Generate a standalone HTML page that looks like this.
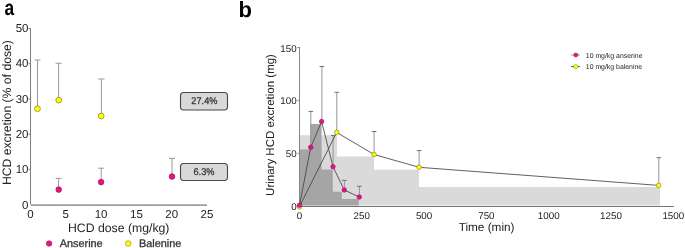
<!DOCTYPE html>
<html><head><meta charset="utf-8">
<style>
html,body{margin:0;padding:0;background:#fff;width:685px;height:248px;overflow:hidden}
svg{display:block;will-change:transform}
text{font-family:"Liberation Sans",sans-serif;text-rendering:geometricPrecision}
</style></head>
<body>
<svg width="685" height="248" viewBox="0 0 685 248">
<!-- ===== Panel a ===== -->
<text transform="translate(4.4,15.1) scale(0.82,1)" font-size="21.2" font-weight="bold" fill="#000">a</text>

<!-- y axis -->
<line x1="30.5" y1="28" x2="30.5" y2="205" stroke="#808080" stroke-width="1"/>
<g stroke="#808080" stroke-width="1">
<line x1="28.5" y1="28.5" x2="30.5" y2="28.5"/>
<line x1="28.5" y1="63.7" x2="30.5" y2="63.7"/>
<line x1="28.5" y1="99" x2="30.5" y2="99"/>
<line x1="28.5" y1="134.2" x2="30.5" y2="134.2"/>
<line x1="28.5" y1="169.3" x2="30.5" y2="169.3"/>
</g>
<g font-size="11.5" fill="#222" text-anchor="end">
<text x="28.5" y="32.2">50</text>
<text x="28.5" y="67.2">40</text>
<text x="28.5" y="102.5">30</text>
<text x="28.5" y="137.8">20</text>
<text x="28.5" y="173.1">10</text>
<text x="28.5" y="208.5">0</text>
</g>
<!-- x axis dotted -->
<line x1="30" y1="204.5" x2="207" y2="204.5" stroke="#b8b8b8" stroke-width="1"/>
<line x1="31" y1="205.5" x2="207" y2="205.5" stroke="#b0b0b0" stroke-width="1"/>
<line x1="31" y1="205.5" x2="207" y2="205.5" stroke="#8a8a8a" stroke-width="1" stroke-dasharray="1.2 1.2"/>
<g font-size="11.5" fill="#222" text-anchor="middle">
<text x="30.5" y="217.5">0</text>
<text x="65.8" y="217.5">5</text>
<text x="101.1" y="217.5">10</text>
<text x="136.4" y="217.5">15</text>
<text x="171.7" y="217.5">20</text>
<text x="207" y="217.5">25</text>
</g>
<text x="118.7" y="232" font-size="12.25" fill="#222" text-anchor="middle">HCD dose (mg/kg)</text>
<text transform="translate(10.5,112.6) rotate(-90)" font-size="12.2" fill="#222" text-anchor="middle">HCD excretion (% of dose)</text>

<!-- error bars panel a -->
<g stroke="#9a9a9a" stroke-width="1">
<line x1="37.5" y1="60" x2="37.5" y2="108.7"/><line x1="34.5" y1="60" x2="40.5" y2="60"/>
<line x1="58.6" y1="63.3" x2="58.6" y2="100.2"/><line x1="55.6" y1="63.3" x2="61.6" y2="63.3"/>
<line x1="101.4" y1="79" x2="101.4" y2="115.9"/><line x1="98.1" y1="79" x2="104.5" y2="79"/>
<line x1="58.6" y1="178.4" x2="58.6" y2="189.6"/><line x1="55.6" y1="178.4" x2="61.6" y2="178.4"/>
<line x1="101.2" y1="168.2" x2="101.2" y2="182.1"/><line x1="98.2" y1="168.2" x2="104.2" y2="168.2"/>
<line x1="172" y1="158.4" x2="172" y2="176.5"/><line x1="169" y1="158.4" x2="175" y2="158.4"/>
</g>
<g fill="#ffff00" stroke="#6b6b10" stroke-width="0.6">
<circle cx="37.5" cy="108.7" r="2.9"/>
<circle cx="58.7" cy="100.2" r="2.9"/>
<circle cx="101.2" cy="116" r="2.9"/>
</g>
<g fill="#ea1282" stroke="#8b1050" stroke-width="0.6">
<circle cx="58.7" cy="189.6" r="2.85"/>
<circle cx="101.1" cy="182.1" r="2.85"/>
<circle cx="172" cy="176.5" r="2.85"/>
</g>
<!-- value boxes -->
<rect x="180.5" y="92.5" width="47" height="17.5" rx="3.2" fill="#d9d9d9" stroke="#4a4a4a" stroke-width="1.15"/>
<text transform="translate(204.4,104.2) scale(0.95,1)" font-size="9.7" fill="#333" stroke="#333" stroke-width="0.25" text-anchor="middle">27.4%</text>
<rect x="180.5" y="163.5" width="47" height="17" rx="3.2" fill="#d9d9d9" stroke="#4a4a4a" stroke-width="1.15"/>
<text transform="translate(204,174.6) scale(0.95,1)" font-size="9.7" fill="#333" stroke="#333" stroke-width="0.25" text-anchor="middle">6.3%</text>

<!-- legend a -->
<circle cx="49.1" cy="243.5" r="2.8" fill="#ea1282" stroke="#8b1050" stroke-width="0.5"/>
<text x="59.7" y="246.8" font-size="10.9" fill="#333" stroke="#333" stroke-width="0.3">Anserine</text>
<circle cx="128.2" cy="243.5" r="2.8" fill="#ffff00" stroke="#6b6b10" stroke-width="0.5"/>
<text x="138.9" y="246.8" font-size="10.9" fill="#333" stroke="#333" stroke-width="0.3">Balenine</text>

<!-- ===== Panel b ===== -->
<text x="238.4" y="17" font-size="22" font-weight="bold" fill="#000">b</text>

<!-- light bars (balenine) -->
<path fill="#dadada" d="M299.5,205.6 V135.3 H337 V156.6 H374 V169.8 H419 V187 H660 V205.6 Z"/>
<!-- dark bars (anserine) -->
<path fill="#a5a5a5" d="M299.5,205.6 V149.4 H310.5 V124 H321.6 V169.5 H332.8 V191.8 H341.8 V199 H358.8 V205.6 Z"/>

<!-- axes b -->
<line x1="299.5" y1="47" x2="299.5" y2="206.5" stroke="#858585" stroke-width="1"/>
<line x1="299" y1="206.5" x2="674" y2="206.5" stroke="#747474" stroke-width="1"/>
<g stroke="#858585" stroke-width="1">
<line x1="297.5" y1="47.5" x2="299.5" y2="47.5"/>
<line x1="297.5" y1="100.5" x2="299.5" y2="100.5"/>
<line x1="297.5" y1="153.3" x2="299.5" y2="153.3"/>
</g>
<g font-size="9.8" fill="#222" text-anchor="end">
<text x="296.6" y="51.5">150</text>
<text x="296.6" y="104.4">100</text>
<text x="296.6" y="157.1">50</text>
<text x="296.6" y="209.9">0</text>
</g>
<g font-size="9.8" fill="#222" text-anchor="middle">
<text x="299.5" y="219">0</text>
<text x="361.8" y="219">250</text>
<text x="424.1" y="219">500</text>
<text x="486.4" y="219">750</text>
<text x="548.7" y="219">1000</text>
<text x="611" y="219">1250</text>
<text x="673.3" y="219">1500</text>
</g>
<text x="486.6" y="231.3" font-size="11.8" fill="#222" text-anchor="middle">Time (min)</text>
<text transform="translate(274.4,125) rotate(-90)" font-size="11.5" fill="#222" text-anchor="middle">Urinary HCD excretion (mg)</text>

<!-- error bars b -->
<g stroke="#959595" stroke-width="1">
<line x1="310.8" y1="111.4" x2="310.8" y2="147.3"/>
<line x1="321.9" y1="66.5" x2="321.9" y2="121.5"/>
<line x1="333.1" y1="135.4" x2="333.1" y2="166.7"/>
<line x1="344.4" y1="180.4" x2="344.4" y2="190"/>
<line x1="359.4" y1="186.3" x2="359.4" y2="197"/>
<line x1="336.8" y1="92.3" x2="336.8" y2="132.4"/>
<line x1="374.1" y1="131.5" x2="374.1" y2="154.5"/>
<line x1="419.1" y1="150.6" x2="419.1" y2="167.1"/>
<line x1="658.8" y1="157.7" x2="658.8" y2="185.4"/>
</g>
<g stroke="#6e6e6e" stroke-width="1">
<line x1="308.5" y1="111.4" x2="313.1" y2="111.4"/>
<line x1="319.6" y1="66.5" x2="324.2" y2="66.5"/>
<line x1="330.8" y1="135.4" x2="335.4" y2="135.4"/>
<line x1="342.1" y1="180.4" x2="346.7" y2="180.4"/>
<line x1="357.1" y1="186.3" x2="361.7" y2="186.3"/>
<line x1="334.5" y1="92.3" x2="339.1" y2="92.3"/>
<line x1="371.8" y1="131.5" x2="376.4" y2="131.5"/>
<line x1="416.8" y1="150.6" x2="421.4" y2="150.6"/>
<line x1="656.5" y1="157.7" x2="661.1" y2="157.7"/>
</g>
<!-- connecting lines -->
<polyline fill="none" stroke="#444" stroke-width="0.85" points="299.5,206.5 336.7,132.4 374.1,154.5 419.1,167.3 658.7,185.4"/>
<polyline fill="none" stroke="#444" stroke-width="0.85" points="299.5,205.5 310.7,147.3 321.6,121.5 333,166.7 344.3,190 359.3,197"/>
<!-- dots b -->
<g fill="#ffff00" stroke="#66660a" stroke-width="0.5">
<circle cx="299.5" cy="206.8" r="2.3"/>
<circle cx="336.7" cy="132.4" r="2.3"/>
<circle cx="374.1" cy="154.5" r="2.3"/>
<circle cx="419.1" cy="167.3" r="2.3"/>
<circle cx="658.7" cy="185.4" r="2.3"/>
</g>
<g fill="#ea1282" stroke="#8a0c4a" stroke-width="0.5">
<circle cx="299.5" cy="205.3" r="2.3"/>
<circle cx="310.7" cy="147.3" r="2.3"/>
<circle cx="321.6" cy="121.5" r="2.3"/>
<circle cx="333" cy="166.7" r="2.3"/>
<circle cx="344.3" cy="190" r="2.3"/>
<circle cx="359.3" cy="197" r="2.3"/>
</g>

<!-- legend b -->
<line x1="571" y1="55" x2="580" y2="55" stroke="#999" stroke-width="1"/>
<circle cx="575.8" cy="55" r="2.1" fill="#ea1282" stroke="#8a0c4a" stroke-width="0.4"/>
<text x="585.8" y="57.6" font-size="6.9" fill="#222">10 mg/kg anserine</text>
<line x1="571" y1="66.6" x2="580" y2="66.6" stroke="#555" stroke-width="1"/>
<circle cx="575.8" cy="66.6" r="2.1" fill="#ffff00" stroke="#66660a" stroke-width="0.4"/>
<text x="585.8" y="69.2" font-size="6.9" fill="#222">10 mg/kg balenine</text>
</svg>
</body></html>
